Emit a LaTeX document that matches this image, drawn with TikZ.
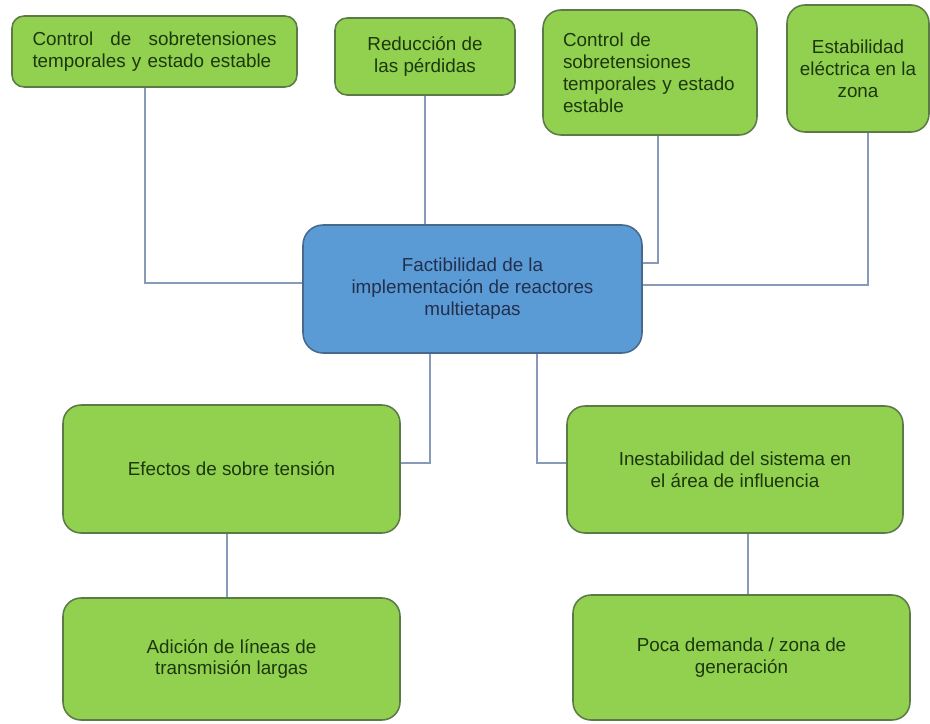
\documentclass[tikz,border=0pt]{standalone}
\usepackage{fontspec}
\setmainfont{Liberation Sans}
\usetikzlibrary{positioning,calc}
\definecolor{LeafGreen}{RGB}{146,208,80}
\definecolor{LeafEdge}{RGB}{92,122,70}
\definecolor{LeafText}{RGB}{28,56,12}
\definecolor{HubBlue}{RGB}{91,155,213}
\definecolor{HubEdge}{RGB}{70,105,140}
\definecolor{HubText}{RGB}{34,48,78}
\definecolor{LinkGray}{RGB}{135,155,185}

\begin{document}
\begin{tikzpicture}[font=\fontsize{13.4}{15.6}\selectfont,
    leaf/.style={draw=LeafEdge,line width=1.1pt,rounded corners=0.45cm,fill=LeafGreen,text=LeafText,align=center},
    hub/.style={draw=HubEdge,line width=1.1pt,rounded corners=0.5cm,fill=HubBlue,text=HubText,align=center},
    link/.style={draw=LinkGray,line width=1.4pt}]
  \useasboundingbox (0,0) rectangle (23.25,-18.075);

  % Central topic
  \node[hub,minimum width=8.475cm,minimum height=3.2cm] (fact) at (11.8125,-7.225)
    {Factibilidad de la\\implementación de reactores\\multietapas};

  % Upper row (benefits)
  \node[leaf,rounded corners=0.3cm,minimum width=7.125cm,minimum height=1.775cm,
    align=left,text width=6.1cm] (ctrl1) at (3.8625,-1.2875)
    {Control\hfill de\hfill sobretensiones\\temporales y estado estable};
  \node[leaf,rounded corners=0.3cm,minimum width=4.5cm,minimum height=1.925cm] (red) at (10.625,-1.4125)
    {Reducción de\\las pérdidas};
  \node[leaf,minimum width=5.35cm,minimum height=3.125cm,align=left,text width=4.35cm] (ctrl2) at (16.25,-1.8125)
    {Control de\\sobretensiones\\temporales y estado\\estable};
  \node[leaf,minimum width=3.55cm,minimum height=3.175cm] (estab) at (21.45,-1.7125)
    {Estabilidad\\eléctrica en la\\zona};

  % Lower branches
  \node[leaf,minimum width=8.425cm,minimum height=3.2cm] (efect) at (5.7875,-11.725)
    {Efectos de sobre tensión};
  \node[leaf,minimum width=8.4cm,minimum height=3.175cm] (inest) at (18.375,-11.7375)
    {Inestabilidad del sistema en\\el área de influencia};
  \node[leaf,minimum width=8.425cm,minimum height=3.05cm] (adic) at (5.7875,-16.475)
    {Adición de líneas de\\transmisión largas};
  \node[leaf,minimum width=8.425cm,minimum height=3.125cm] (poca) at (18.5375,-16.4375)
    {Poca demanda / zona de\\generación};

  % Connectors to the central topic
  \draw[link] ([xshift=-0.24cm]ctrl1.south) |- ([yshift=0.15cm]fact.west);
  \draw[link] (red.south) -- (red.south |- fact.north);
  \draw[link] ([xshift=0.2cm]ctrl2.south) |- ([yshift=0.65cm]fact.east);
  \draw[link] ([xshift=0.24cm]estab.south) |- ([yshift=0.1cm]fact.east);
  \draw[link] ([xshift=-1.06cm]fact.south) |- ([yshift=0.15cm]efect.east);
  \draw[link] ([xshift=1.62cm]fact.south) |- ([yshift=0.16cm]inest.west);

  % Second level
  \draw[link] ([xshift=-0.11cm]efect.south) -- ([xshift=-0.11cm]efect.south |- adic.north);
  \draw[link] ([xshift=0.33cm]inest.south) -- ([xshift=0.33cm]inest.south |- poca.north);
\end{tikzpicture}
\end{document}
